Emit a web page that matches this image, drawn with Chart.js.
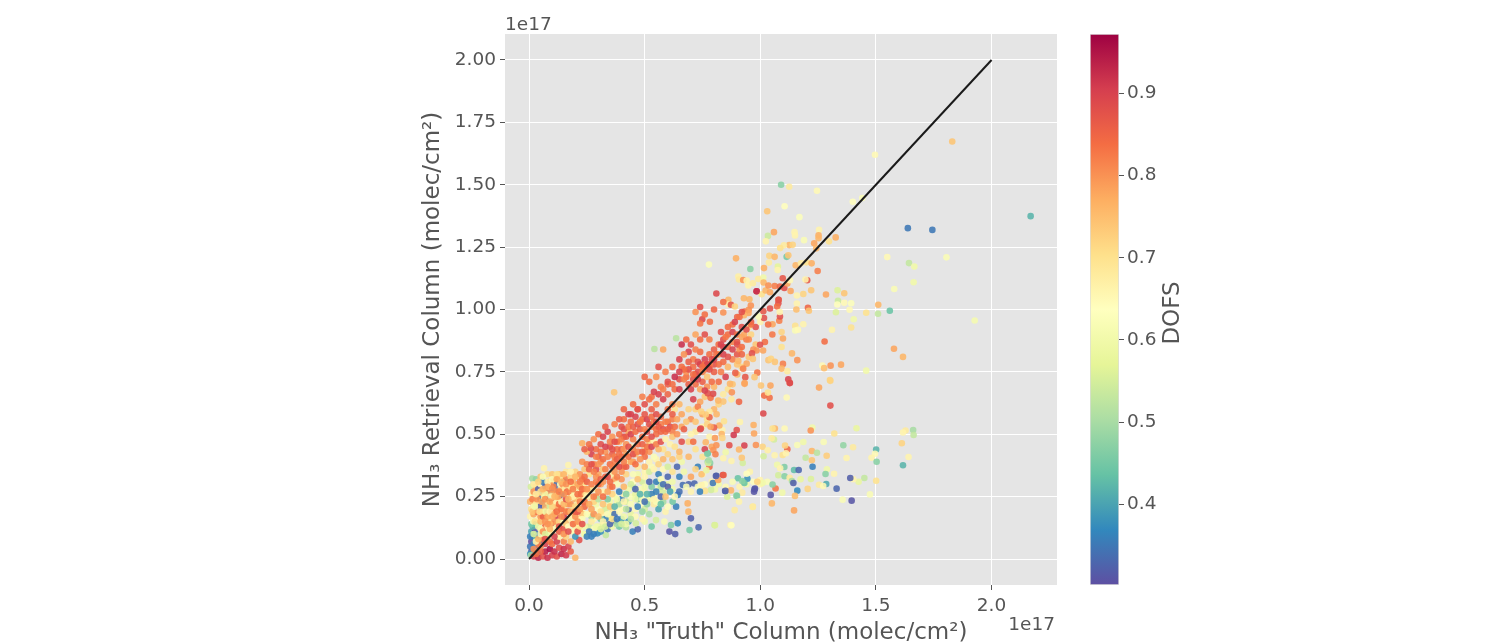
<!DOCTYPE html>
<html><head><meta charset="utf-8">
<script src="https://cdn.jsdelivr.net/npm/chart.js@4"></script>
<style>html,body{margin:0;padding:0;background:#fff;overflow:hidden}</style>
</head><body>
<div style="position:absolute;left:0;top:0;width:1494px;height:644px"><canvas id="main"></canvas></div>
<div style="position:absolute;left:1060px;top:0;width:140px;height:644px"><canvas id="bar"></canvas></div>
<script>
// Each list is flat: truth (1e17), retrieval (1e17), DOFS
const nearOrigin=[.01,.03,.32,.005,.05,.35,.01,.07,.3,.015,.09,.33,.02,.02,.34,.03,.04,.31,.02,.06,.36,.03,.08,.42,.005,.02,.38,.01,.11,.4,.025,.12,.31,.04,.1,.35,.05,.06,.33,.04,.02,.45,.015,.13,.42,.005,.09,.36,.008,.015,.5,
.02,.01,.9,.04,.005,.93,.06,.01,.88,.08,.005,.92,.1,.015,.9,.12,.01,.88,.14,.02,.93,.16,.015,.91,.18,.03,.86,.2,.005,.76,.07,.03,.94,.09,.04,.96,.11,.03,.92,.13,.045,.88,.15,.04,.92,.17,.05,.9,.05,.03,.86,.07,.06,.9,.1,.06,.84,.12,.07,.9,.15,.07,.82,.18,.07,.76,.06,.08,.84,.08,.09,.58,.1,.1,.7,.13,.09,.66,.16,.09,.72,.04,.06,.82,.03,.02,.84];
const leftEdge=[.01,.14,.45,.005,.17,.66,.01,.2,.7,.005,.23,.76,.012,.26,.62,.008,.29,.55,.014,.323,.5,.03,.32,.48,.05,.33,.74,.065,.364,.66,.08,.34,.7,.1,.34,.74,.03,.29,.74,.02,.27,.8,.015,.24,.82,.02,.21,.66,.02,.18,.78,.018,.15,.62,.03,.14,.44,.04,.16,.66,.035,.19,.84,.03,.22,.7,.04,.25,.78,.04,.28,.32,.05,.3,.66,.06,.31,.36,.07,.29,.33,.06,.27,.33,.05,.24,.36,.06,.22,.32,.05,.21,.32,.06,.19,.7,.05,.17,.8,.06,.15,.62,.07,.13,.84,.05,.12,.66,.08,.11,.62,.07,.17,.74,.08,.19,.88,.07,.21,.76,.08,.23,.7,.08,.25,.33,.09,.27,.32,.1,.3,.68,.11,.32,.76,.09,.31,.8,.12,.3,.34,.11,.28,.34,.1,.26,.76,.12,.27,.8,.1,.23,.84,.11,.22,.66,.09,.21,.55,.1,.19,.82,.09,.16,.7,.1,.14,.88,.11,.12,.65,.12,.14,.6,.12,.17,.9,.13,.19,.68,.12,.21,.78,.13,.24,.86,.14,.26,.35,.14,.28,.74,.15,.31,.42,.14,.33,.7,.16,.35,.68,.17,.377,.66,.13,.34,.74,.16,.32,.82,.18,.33,.72,.2,.35,.72,.19,.31,.76];
const lowCloud=[.15,.12,.87,.16,.14,.74,.15,.17,.9,.14,.2,.84,.15,.22,.76,.16,.24,.88,.17,.27,.82,.18,.29,.7,.19,.25,.66,.18,.22,.8,.17,.19,.84,.18,.16,.66,.17,.13,.64,.19,.11,.62,.2,.09,.38,.21,.11,.88,.22,.13,.7,.2,.14,.68,.2,.17,.8,.21,.19,.88,.2,.21,.72,.22,.23,.82,.21,.26,.84,.22,.29,.78,.23,.32,.84,.22,.34,.8,.24,.36,.74,.23,.39,.8,.25,.38,.82,.26,.34,.7,.25,.31,.86,.26,.28,.72,.25,.25,.66,.24,.21,.85,.25,.18,.62,.23,.16,.62,.24,.13,.6,.26,.11,.35,.25,.09,.36,.28,.1,.36,.29,.13,.6,.27,.15,.68,.28,.18,.8,.27,.2,.78,.28,.23,.72,.29,.25,.8,.28,.28,.68,.29,.31,.82,.3,.34,.78,.29,.36,.88,.28,.38,.82,.3,.41,.88,.31,.39,.8,.32,.36,.74,.33,.33,.84,.31,.3,.78,.32,.27,.66,.3,.24,.52,.32,.22,.74,.31,.19,.7,.3,.17,.76,.32,.15,.66,.33,.13,.55,.31,.12,.56,.35,.14,.33,.36,.16,.7,.34,.18,.62,.35,.21,.74,.34,.24,.46,.36,.26,.72,.35,.29,.8,.37,.32,.78,.36,.34,.68,.38,.37,.76,.37,.39,.82,.36,.42,.86,.38,.44,.84,.35,.45,.88,.33,.43,.8,.31,.46,.88,.29,.44,.84,.27,.42,.9,.25,.43,.76,.23,.464,.77,.267,.444,.89,.28,.48,.8,.3,.5,.84,.32,.49,.9,.34,.51,.9,.36,.49,.8,.33,.53,.86];
const midCloud=[.38,.3,.62,.39,.27,.36,.38,.24,.6,.37,.21,.42,.39,.19,.65,.38,.16,.35,.4,.14,.55,.41,.17,.6,.42,.2,.52,.41,.23,.66,.42,.26,.47,.41,.29,.76,.4,.32,.8,.42,.34,.72,.41,.37,.84,.43,.39,.62,.42,.42,.78,.4,.44,.86,.42,.46,.8,.39,.47,.76,.41,.49,.9,.43,.51,.78,.45,.48,.82,.44,.45,.66,.46,.42,.76,.45,.39,.8,.47,.37,.68,.45,.34,.62,.47,.32,.74,.44,.3,.55,.46,.28,.33,.48,.26,.42,.46,.24,.6,.44,.22,.62,.47,.21,.36,.49,.19,.48,.46,.17,.65,.44,.16,.52,.49,.16,.66,.5,.23,.34,.51,.26,.42,.5,.29,.6,.52,.31,.33,.5,.33,.66,.52,.35,.55,.5,.37,.76,.52,.39,.66,.5,.41,.84,.52,.43,.8,.5,.45,.62,.52,.47,.72,.49,.49,.84,.51,.51,.88,.53,.53,.82,.55,.5,.84,.54,.47,.66,.56,.44,.76,.54,.41,.62,.56,.38,.72,.54,.36,.66,.56,.34,.36,.55,.31,.36,.57,.29,.52,.55,.27,.36,.57,.25,.33,.54,.24,.66,.57,.32,.62,.58,.36,.65,.58,.4,.76,.6,.37,.55,.6,.42,.72,.6,.33,.33,.58,.3,.34,.6,.29,.32,.62,.31,.6,.61,.27,.4,.59,.25,.74,.63,.25,.65];
const lowerTail=[.607,.11,.31,.632,.1,.32,.733,.127,.33,.694,.116,.45,.7,.163,.32,.802,.136,.55,.871,.136,.66,.643,.143,.37,.614,.136,.46,.585,.15,.62,.549,.156,.55,.636,.21,.36,.686,.223,.77,.689,.19,.76,.621,.23,.45,.643,.257,.36,.448,.11,.36,.47,.119,.33,.419,.127,.52,.462,.143,.55,.368,.15,.33,.332,.096,.53,.296,.103,.37,.217,.076,.88,.24,.1,.62,.27,.09,.36,.31,.11,.38,.34,.12,.35,.39,.13,.45,.43,.15,.38,.5,.15,.6,.53,.13,.44,.56,.2,.4,.59,.19,.66,.6,.21,.64,.52,.18,.5,.54,.22,.68,.58,.23,.5,.715,.303,.33,.665,.297,.34,.73,.37,.36,.773,.39,.47,.773,.424,.44,.81,.334,.33,.838,.337,.9,.903,.324,.44,.93,.31,.47,.975,.279,.32,.968,.21,.68,.889,.196,.68,.857,.25,.56,.896,.254,.5,.848,.273,.33,.69,.3,.33,.65,.33,.36,.67,.35,.6,.7,.33,.78,.72,.36,.72,.75,.34,.66,.75,.41,.7,.78,.37,.84,.66,.39,.6,.69,.41,.76,.72,.44,.7,.64,.37,.33,.62,.35,.7];
const lowBand=[.2,.1,.66, .22,.12,.62, .24,.1,.6, .26,.13,.55, .28,.12,.62, .3,.13,.6, .32,.14,.58, .34,.15,.66, .36,.13,.6, .38,.14,.5, .4,.16,.4, .42,.14,.6, .44,.18,.58, .46,.2,.65, .48,.22,.64, .5,.2,.55, .52,.24,.6, .54,.26,.65, .56,.28,.62, .58,.27,.55, .6,.3,.58, .26,.18,.65, .28,.16,.62, .3,.2,.64, .32,.18,.66, .34,.21,.62, .36,.19,.68, .38,.22,.6, .4,.2,.65, .42,.23,.55, .44,.25,.62, .46,.26,.58, .48,.28,.62, .5,.27,.66, .22,.16,.66, .24,.18,.64, .2,.12,.68, .35,.17,.55, .33,.16,.36, .37,.18,.34, .4,.24,.36, .43,.2,.33, .45,.29,.5, .49,.31,.55, .53,.29,.46, .56,.31,.5, .47,.34,.6, .5,.35,.66, .53,.37,.62, .55,.4,.66, .58,.44,.7, .61,.46,.66, .62,.4,.74, .65,.41,.72,
.23,.2,.62, .27,.17,.5, .29,.22,.6, .31,.16,.46, .33,.2,.55, .35,.23,.6, .37,.25,.64, .39,.22,.5, .41,.26,.66, .43,.28,.6, .45,.31,.64, .47,.24,.44, .49,.24,.62, .51,.22,.48, .53,.26,.36, .55,.23,.62, .57,.22,.44, .59,.29,.64, .62,.28,.6, .65,.27,.34, .68,.29,.62, .7,.27,.66, .73,.29,.62, .76,.3,.64, .79,.31,.66, .82,.3,.6, .85,.29,.65, .88,.31,.62, .91,.29,.66, .94,.3,.6, .97,.31,.64, 1.0,.3,.66, 1.03,.31,.62];
const extraLeft=[.02,.04,.8, .03,.07,.66, .04,.08,.76, .05,.1,.62, .06,.11,.8, .07,.1,.56, .08,.13,.66, .09,.12,.76, .02,.1,.56, .025,.15,.7, .04,.13,.6, .05,.15,.76, .06,.17,.86, .07,.19,.6, .08,.17,.78, .09,.19,.66, .1,.21,.72, .11,.18,.76, .12,.23,.66, .13,.22,.84, .14,.23,.62, .15,.2,.7, .16,.22,.66, .17,.22,.8, .18,.25,.74, .19,.21,.6, .2,.24,.76, .21,.22,.68, .22,.26,.7, .23,.25,.62, .24,.28,.76, .25,.22,.6, .26,.25,.72,
.015,.19,.74, .025,.21,.6, .035,.24,.8, .045,.19,.7, .055,.23,.78, .065,.25,.68, .075,.27,.8, .085,.29,.66, .095,.25,.62, .105,.29,.82, .115,.25,.72, .125,.25,.78, .135,.3,.64, .145,.3,.8, .155,.28,.68, .165,.27,.86, .175,.3,.66, .185,.27,.6, .195,.29,.72, .205,.27,.62, .215,.24,.72, .225,.26,.84, .235,.3,.68, .245,.26,.7,
.02,.3,.68, .04,.31,.72, .06,.33,.62, .08,.31,.66, .1,.32,.62, .12,.34,.7, .15,.34,.76, .18,.35,.66, .21,.33,.7, .24,.31,.72, .03,.26,.68, .07,.26,.6, .11,.15,.8, .13,.15,.72, .15,.15,.62, .17,.16,.76, .19,.17,.7, .21,.17,.66, .23,.18,.74, .05,.27,.7,.09,.14,.76,.07,.15,.8,.13,.13,.88];
const coreBand=[.05,.05,.82, .07,.08,.88, .09,.07,.84, .11,.09,.9, .13,.11,.86, .15,.1,.8, .17,.11,.88, .19,.14,.84, .21,.15,.8, .23,.14,.88, .08,.14,.8, .1,.17,.78, .12,.19,.84, .14,.17,.8, .16,.19,.82, .18,.19,.76, .2,.19,.86, .22,.2,.8, .24,.23,.84, .26,.22,.78, .28,.25,.82, .3,.27,.8, .32,.25,.84, .34,.27,.78, .36,.29,.84, .38,.33,.82, .4,.35,.8, .42,.37,.86, .44,.39,.78, .46,.38,.84, .48,.4,.8, .5,.43,.82,
.07,.24,.8, .09,.23,.78, .11,.25,.76, .13,.27,.82, .15,.26,.8, .17,.24,.76, .19,.28,.82, .21,.3,.78, .23,.28,.84, .25,.28,.8, .27,.3,.82, .29,.33,.8, .31,.32,.86, .33,.36,.82, .35,.38,.84, .37,.41,.82, .39,.42,.84, .41,.44,.8, .43,.45,.88, .45,.44,.82, .47,.46,.84, .49,.46,.86, .51,.48,.82, .53,.49,.88, .55,.52,.84, .57,.54,.82,
.06,.28,.76, .08,.29,.78, .1,.28,.8, .12,.32,.78, .14,.31,.76, .16,.3,.8, .18,.31,.84, .2,.33,.76, .22,.31,.82, .24,.33,.84, .26,.36,.86, .28,.35,.82, .3,.38,.8, .32,.4,.84, .34,.41,.82, .36,.44,.88, .38,.47,.84, .4,.48,.82, .42,.49,.86, .44,.5,.9, .46,.51,.84, .48,.52,.86, .5,.52,.82, .52,.54,.88, .54,.55,.82, .56,.53,.86, .58,.52,.88, .6,.55,.84, .62,.56,.82,
.24,.44,.86, .26,.46,.84, .27,.38,.88, .29,.41,.82, .31,.43,.84, .33,.45,.9, .35,.47,.82, .37,.47,.88, .39,.5,.84, .41,.52,.88, .43,.53,.82, .45,.53,.86, .47,.54,.88, .49,.56,.84, .51,.56,.9, .53,.57,.84, .55,.58,.88, .41,.56,.84, .44,.58,.9, .47,.6,.84, .5,.62,.88, .53,.65,.84, .56,.66,.9, .58,.68,.82, .6,.7,.86, .63,.68,.84, .65,.72,.88, .68,.73,.84, .7,.68,.9, .72,.7,.84, .75,.71,.86, .74,.68,.78, .77,.69,.8, .8,.69,.76, .82,.71,.84, .85,.73,.9, .83,.75,.82, .8,.78,.88, .78,.82,.84, .76,.76,.82, .73,.75,.88, .71,.8,.82, .69,.83,.9,
.82,.86,.84, .84,.88,.88, .86,.85,.84, .88,.87,.82, .86,.9,.84, .88,.91,.9, .9,.9,.84, .92,.89,.78, .94,.88,.82, .96,.9,.72, .98,.86,.74, .95,.81,.74, .92,.77,.72, .9,.74,.76, .88,.7,.74, .86,.68,.7, .84,.66,.68, .82,.62,.72, .8,.6,.76, .78,.59,.68, .77,.56,.7, .75,.53,.66, .72,.51,.68, .69,.47,.72, .66,.53,.78, .63,.6,.7, .7,.56,.8, .72,.6,.72, .74,.63,.78, .76,.65,.74,
.35,.31,.84, .37,.35,.8, .39,.37,.88, .41,.39,.82, .43,.41,.84, .45,.42,.88, .47,.43,.82, .49,.43,.86, .51,.45,.84, .53,.45,.9, .55,.46,.82, .57,.47,.88, .59,.51,.84, .61,.53,.88, .62,.51,.82, .3,.3,.84, .32,.31,.8, .34,.33,.88, .36,.37,.82, .38,.4,.86, .4,.41,.84];
const upperRidge=[.368,.668,.74,.542,.842,.52,.636,.885,.52,.58,.84,.78,.56,.77,.88,.5,.73,.85,.52,.71,.84,.55,.73,.8,.59,.75,.82,.62,.77,.84,.6,.71,.88,.57,.69,.82,.54,.67,.9,.52,.64,.84,.49,.65,.82,.47,.6,.88,.45,.62,.84,.43,.58,.9,.41,.6,.85,.39,.56,.86,.37,.54,.82,.4,.53,.88,.44,.55,.84,.46,.57,.9,.48,.55,.83,.5,.58,.87,.53,.6,.86,.55,.62,.82,.58,.64,.9,.6,.66,.85,.62,.62,.82,.6,.6,.84,.57,.57,.85,.55,.55,.88,.59,.55,.82,.62,.58,.86,.64,.56,.78,.63,.53,.84,.6,.52,.86,.57,.51,.85,.59,.48,.66,.62,.49,.74,.64,.5,.8,.66,.47,.88,.63,.45,.7,.65,.43,.76,.67,.52,.86,.68,.55,.74,.66,.58,.78,.65,.62,.76,.69,.6,.72,.71,.64,.9,.73,.61,.82,.75,.58,.78,.72,.55,.74,.77,.54,.72,.74,.52,.88,.78,.49,.66,.7,.5,.66,.71,.47,.84,.79,.45,.78,.76,.44,.9,.62,.7,.84,.65,.68,.9,.67,.72,.82,.69,.7,.86,.71,.72,.88,.68,.75,.8,.66,.77,.84,.63,.73,.92];
const alongLine=[.65,.8,.9,.67,.82,.8,.69,.79,.86,.71,.77,.84,.73,.79,.88,.75,.75,.82,.77,.73,.74,.79,.71,.84,.8,.75,.86,.78,.78,.8,.76,.8,.9,.74,.83,.84,.72,.84,.82,.7,.86,.88,.68,.88,.84,.66,.86,.92,.74,.88,.84,.76,.9,.88,.78,.88,.82,.8,.84,.86,.82,.82,.78,.84,.79,.84,.86,.77,.76,.88,.8,.82,.9,.78,.74,.83,.86,.9,.85,.89,.83,.9,.82,.87,.91,.84,.8,.93,.9,.78,.95,.88,.81,.97,.84,.8,.92,.82,.85,.9,.87,.87,.78,.77,.84,.749,.961,.89,.782,.951,.84,.74,.944,.83,.72,.9,.78,.95,.93,.7,.76,.98,.84,.72,.99,.8,.74,1.01,.88,.8,1.0,.85,.84,.988,.8,.932,.992,.84,.95,.999,.8,.949,.986,.78,.93,.977,.76,.862,1.039,.76,.862,1.02,.66,.873,1.019,.87,.89,1.012,.72,.929,1.045,.76,.953,1.041,.76,.959,1.016,.8,.81,1.064,.89,.984,1.073,.92,1.006,1.061,.7,1.023,1.076,.76,1.042,1.069,.78,.84,1.03,.84,.9,.97,.85,.92,.93,.88,.88,.94,.84,.96,.95,.87,.98,.93,.88,1.0,.95,.66,1.053,.941,.78,1.034,.94,.84,1.082,.955,.82,1.085,.972,.88,1.016,.966,.88,.993,.972,.62,1.079,1.039,.87,1.078,1.025,.88,1.073,1.012,.84,1.042,1.004,.88,1.013,.993,.87,1.084,.99,.66,1.052,.9,.83,1.02,.87,.84,.999,.859,.88,1.012,.836,.78,.984,.836,.8,.964,.824,.88,.968,.802,.74,1.035,.797,.74,1.046,.802,.72,1.063,.79,.74,1.098,.782,.82,1.092,.763,.76,.941,.783,.78,.905,.794,.76,.926,.763,.82,.987,.747,.83,.975,.729,.74,.935,.729,.87,.892,.746,.86,.932,.705,.78,1.121,.72,.9,1.127,.706,.85,1.092,.85,.7,1.098,.884,.78,1.092,.91,.72,1.137,.824,.76,1.16,.797,.8,1.117,.753,.68,.908,.63,.85,.84,.631,.74,.818,.635,.76,.875,.64,.68,.785,.646,.84,.796,.662,.89,.773,.664,.88,.76,.675,.9,.877,.668,.8,1.017,.655,.84,1.04,.646,.84,1.033,.667,.7,1.003,.695,.74,1.044,.695,.78,.932,.702,.78,.869,.702,.76,1.128,.705,.89,
.72,.74,.88, .74,.78,.9, .76,.78,.84, .78,.76,.88, .8,.8,.9, .82,.78,.84, .84,.82,.9, .86,.81,.88, .88,.84,.9, .9,.86,.88, .92,.85,.84, .94,.92,.88, .96,.94,.84, .84,.85,.9, .81,.82,.84, .79,.8,.88, .77,.78,.9, .75,.77,.84, .73,.72,.9, .71,.74,.84, .69,.76,.88, .67,.76,.84, .65,.75,.9, .83,.91,.88, .86,.93,.84, .89,.95,.9, .91,.97,.84, .92,.99,.88];
const plateau=[1.661,.517,.5,1.663,.497,.53,1.628,.515,.68,1.617,.507,.66,1.612,.464,.72,1.641,.409,.66,1.617,.376,.42,1.501,.439,.42,1.496,.422,.65,1.481,.406,.66,1.503,.39,.47,1.501,.314,.7,1.474,.259,.62,1.45,.325,.53,1.425,.31,.58,1.402,.32,.66,1.389,.325,.32,1.395,.234,.31,1.356,.238,.62,1.33,.282,.33,1.319,.342,.66,1.288,.36,.6,1.282,.341,.47,1.285,.301,.41,1.254,.298,.68,1.272,.293,.65,1.373,.405,.66,1.401,.448,.68,1.359,.456,.48,1.416,.524,.58,1.32,.503,.7,1.274,.469,.62,1.225,.527,.6,1.218,.515,.8,1.303,.615,.88,1.013,.583,.89,1.114,.647,.65,1.254,.687,.78,1.303,.714,.72,1.105,.523,.65,1.063,.523,.76,1.053,.523,.7,1.059,.479,.55,1.049,.484,.68,.971,.537,.77,.973,.503,.78,.912,.549,.66,.898,.517,.88,.885,.497,.91,.866,.456,.88,.931,.455,.9,.981,.457,.8,1.01,.45,.72,.908,.439,.76,1.032,.436,.67,1.117,.44,.85,1.107,.455,.72,1.16,.457,.62,1.186,.469,.6,1.223,.433,.76,1.245,.426,.52,1.196,.406,.53,1.223,.396,.74,1.287,.414,.73,1.097,.417,.7,1.111,.424,.66,1.062,.416,.66,1.014,.412,.55,1.104,.369,.46,1.073,.378,.6,1.086,.364,.66,1.146,.357,.43,1.166,.357,.33,1.226,.37,.36,1.078,.336,.55,1.105,.332,.47,1.127,.326,.68,1.137,.313,.5,1.143,.305,.32,1.174,.32,.58,1.219,.321,.56,1.16,.274,.37,1.205,.281,.72,1.15,.253,.75,1.095,.266,.6,1.066,.283,.83,1.053,.299,.47,1.045,.257,.31,1.05,.223,.76,1.146,.195,.78,.977,.283,.31,.973,.27,.31,.922,.266,.68,.899,.253,.46,.908,.23,.66,.967,.209,.68,.999,.317,.66,1.01,.305,.6,.987,.31,.72,.944,.322,.38,.931,.305,.44,.922,.313,.47,.955,.35,.66,.941,.342,.64,.873,.275,.76,.849,.273,.32,.804,.279,.6,.787,.277,.55,.761,.273,.7,.739,.27,.36,.795,.305,.35,.818,.317,.78,.808,.333,.32,.841,.337,.86,.746,.297,.66,.746,.34,.75,.767,.356,.58,.924,.385,.55,.92,.406,.74,.875,.393,.66,.84,.404,.66,.85,.428,.6,.783,.385,.47,.774,.385,.55,.777,.396,.5,.771,.422,.46,.797,.437,.8,.806,.42,.82,.81,.456,.8,.764,.468,.76,.804,.485,.79,.836,.517,.66,.833,.501,.76,.836,.485,.72,.823,.535,.77,.8,.527,.86,.785,.53,.78,.843,.552,.7,.743,.523,.88,.78,.568,.85,.764,.579,.73,.811,.58,.76,.744,.591,.72,.804,.135,.56,.875,.135,.64];
const farField=[1.83,1.673,.74,1.496,1.62,.65,1.09,1.5,.47,1.125,1.492,.68,1.245,1.476,.65,1.4,1.432,.64,1.441,1.447,.62,1.105,1.414,.64,1.03,1.394,.74,1.169,1.37,.63,2.169,1.374,.42,1.638,1.326,.35,1.744,1.319,.35,1.059,1.31,.78,1.148,1.31,.66,1.15,1.297,.66,1.254,1.319,.66,1.252,1.297,.77,1.252,1.286,.76,1.326,1.289,.77,1.033,1.295,.54,1.024,1.273,.66,1.189,1.278,.62,1.297,1.273,.7,1.233,1.265,.78,1.125,1.258,.76,1.14,1.259,.72,1.102,1.257,.68,1.086,1.246,.7,1.242,1.245,.76,1.549,1.21,.65,1.805,1.209,.62,.895,1.205,.77,1.039,1.215,.72,1.062,1.211,.76,1.114,1.211,.45,1.121,1.217,.74,1.037,1.188,.68,1.643,1.186,.53,1.666,1.172,.6,.778,1.18,.63,.957,1.162,.47,1.076,1.172,.57,1.016,1.166,.77,1.075,1.158,.66,1.153,1.177,.76,1.176,1.185,.68,1.2,1.189,.7,1.222,1.185,.77,1.248,1.154,.82,1.097,1.125,.87,1.203,1.117,.87,1.195,1.12,.66,1.663,1.109,.6,1.579,1.082,.62,1.013,1.128,.6,.991,1.122,.68,.905,1.132,.67,.908,1.12,.68,.926,1.118,.8,.941,1.116,.66,.948,1.096,.66,.968,1.105,.68,1.014,1.108,.76,1.035,1.096,.8,1.062,1.094,.82,1.085,1.092,.85,1.104,1.086,.88,1.117,1.104,.78,1.128,1.117,.65,1.131,1.074,.78,.984,1.073,.92,1.158,1.056,.66,1.186,1.062,.72,1.22,1.077,.74,1.284,1.06,.78,1.334,1.077,.56,1.363,1.065,.74,1.336,1.035,.54,1.333,1.02,.64,1.363,1.027,.65,1.393,1.025,.63,1.51,1.019,.76,1.386,.999,.65,1.458,.987,.7,1.509,.983,.53,1.56,.995,.44,1.327,.989,.56,1.404,.961,.6,1.927,.956,.61,1.393,.928,.7,1.31,.919,.66,1.158,1.024,.66,1.156,1.0,.75,1.206,1.007,.85,1.21,.995,.74,1.079,1.039,.87,1.151,.935,.7,1.186,.941,.66,1.151,.916,.62,1.163,.919,.65,1.278,.872,.84,1.578,.843,.78,1.617,.81,.76,1.458,.755,.6,1.349,.779,.78,1.304,.775,.8,1.268,.775,.65,1.276,.765,.75,1.301,.717,.72];
const lineTruth=[0,2];
const lineRetrieval=[0,2];
const xTickStep=.5, yTickStep=.25;
const dofsRange=[.302,.972];
const spectralStops=['#5e4fa2','#3288bd','#66c2a5','#abdda4','#e6f598','#ffffbf','#fee08b','#fdae61','#f46d43','#d53e4f','#9e0142'];

const hex=h=>[1,3,5].map(i=>parseInt(h.substr(i,2),16));
function dofsColor(d,a){
  const t=Math.min(1,Math.max(0,(d-dofsRange[0])/(dofsRange[1]-dofsRange[0])))*(spectralStops.length-1);
  const i=Math.min(spectralStops.length-2,Math.floor(t)),f=t-i,A=hex(spectralStops[i]),B=hex(spectralStops[i+1]);
  return `rgba(${A.map((v,k)=>Math.round(v+(B[k]-v)*f)).join(',')},${a})`;
}
const flat=[...nearOrigin,...leftEdge,...lowerTail,...lowBand,...extraLeft,...lowCloud,...midCloud,...coreBand,...upperRidge,...alongLine,...plateau,...farField];
const pts=[],cols=[];
for(let i=0;i+2<flat.length;i+=3){pts.push({x:flat[i],y:flat[i+1]});cols.push(dofsColor(flat[i+2],.88));}
const ink='#555555',font='"DejaVu Sans"';
const textPlugin={id:'freeText',afterDraw(c,_,o){const g=c.ctx;g.save();g.fillStyle=ink;(o.items||[]).forEach(t=>{g.save();g.translate(t.x,t.y);g.rotate(t.r||0);g.font=`${t.s}px ${font}`;g.textAlign=t.a||'left';g.textBaseline='middle';g.fillText(t.t,0,0);g.restore();});g.restore();}};
const bgPlugin={id:'bg',beforeDraw(c){const a=c.chartArea;c.ctx.save();c.ctx.fillStyle='#E5E5E5';c.ctx.fillRect(a.left,a.top,a.right-a.left,a.bottom-a.top);c.ctx.restore();}};
new Chart(document.getElementById('main'),{
 type:'scatter',
 data:{datasets:[
  {type:'line',data:lineTruth.map((x,i)=>({x,y:lineRetrieval[i]})),borderColor:'#1a1a1a',borderWidth:2,pointRadius:0,order:0,parsing:false},
  {data:pts,pointBackgroundColor:cols,pointBorderWidth:0,pointRadius:3.3,order:1}
 ]},
 plugins:[bgPlugin,textPlugin],
 options:{responsive:true,maintainAspectRatio:false,animation:false,
  layout:{padding:{left:419,right:437,top:34,bottom:0}},
  plugins:{legend:{display:false},tooltip:{enabled:false},
   freeText:{items:[{t:'1e17',x:505,y:25,s:18.5},{t:'1e17',x:1055,y:625,s:18.5,a:'right'}]}},
  scales:{
   x:{type:'linear',min:-.104,max:2.283,afterFit:s=>{s.height=59;},
    ticks:{stepSize:xTickStep,includeBounds:false,color:ink,font:{family:font,size:18.5},padding:5,maxRotation:0,callback:v=>v.toFixed(1)},
    grid:{color:'#fff',lineWidth:1,tickColor:ink,tickLength:5},border:{display:false},
    title:{display:true,text:'NH₃ "Truth" Column (molec/cm²)',color:ink,font:{family:font,size:23},padding:{top:0,bottom:-3}}},
   y:{type:'linear',min:-.104,max:2.104,afterFit:s=>{s.width=86;},
    ticks:{stepSize:yTickStep,includeBounds:false,color:ink,font:{family:font,size:18.5},padding:4,callback:v=>v.toFixed(2)},
    grid:{color:'#fff',lineWidth:1,tickColor:ink,tickLength:5},border:{display:false},
    title:{display:true,text:'NH₃ Retrieval Column (molec/cm²)',color:ink,font:{family:font,size:23},padding:0}}
  }}
});
new Chart(document.getElementById('bar'),{
 type:'bar',
 data:{labels:['DOFS'],datasets:[{data:[dofsRange],barPercentage:1,categoryPercentage:1,borderColor:'#dcdcdc',borderWidth:1,borderSkipped:false,
  backgroundColor(ctx){const a=ctx.chart.chartArea;if(!a)return '#ccc';const g=ctx.chart.ctx.createLinearGradient(0,a.bottom,0,a.top);spectralStops.forEach((s,i)=>g.addColorStop(i/(spectralStops.length-1),s));return g;}}]},
 plugins:[textPlugin],
 options:{responsive:true,maintainAspectRatio:false,animation:false,
  layout:{padding:{left:30,right:0,top:34,bottom:59}},
  plugins:{legend:{display:false},tooltip:{enabled:false},
   freeText:{items:[{t:'DOFS',x:113,y:313,s:23,a:'center',r:-Math.PI/2}]}},
  scales:{
   x:{display:false},
   y:{position:'right',min:dofsRange[0],max:dofsRange[1],afterFit:s=>{s.width=81;},
    ticks:{stepSize:.1,includeBounds:false,color:ink,font:{family:font,size:18.5},padding:3,callback:v=>v.toFixed(1)},
    grid:{drawOnChartArea:false,tickColor:ink,tickLength:5},border:{display:false}}
  }}
});
</script>
</body></html>
